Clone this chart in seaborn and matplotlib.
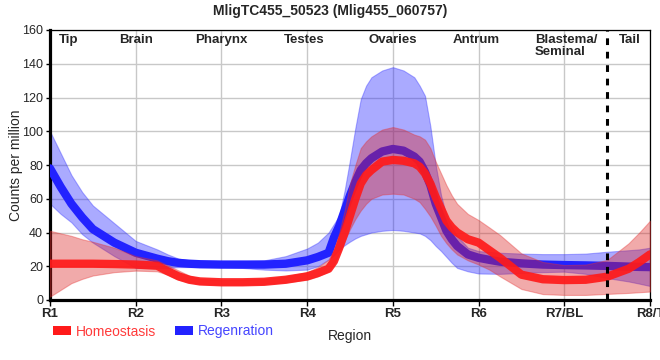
import numpy as np
import pandas as pd
import matplotlib
matplotlib.use('Agg')
import matplotlib.pyplot as plt
import seaborn as sns
from matplotlib.patches import Patch

# sample positions along the body (R1 = 1 ... R8 = 8)
pos = [1.0, 1.125, 1.25, 1.375, 1.5, 1.75,
       2.0, 2.25, 2.375, 2.5, 2.625, 2.75,
       3.0, 3.25, 3.5, 3.75,
       4.0, 4.125, 4.25, 4.3125, 4.375, 4.4375, 4.5, 4.5625, 4.625, 4.6875, 4.75, 4.875,
       5.0, 5.125, 5.25, 5.3125, 5.375, 5.4375, 5.5, 5.5625, 5.625, 5.6875, 5.75, 5.875,
       6.0, 6.125, 6.25, 6.5, 6.75,
       7.0, 7.25, 7.5, 7.75, 7.875,
       8.0]

homeo_mean = [21.5, 21.5, 21.5, 21.5, 21.5, 21.3,
              21, 20.3, 17, 14, 12, 11,
              10.5, 10.5, 10.8, 12,
              14, 16, 18.5, 23, 31, 40, 50, 60, 69, 74, 77, 82,
              83, 82.5, 81, 79, 75, 69, 61, 54, 47, 43, 40, 36,
              34, 29.5, 25, 15, 12.3,
              11.8, 12, 13.8, 18.5, 22.5,
              27]
homeo_lo = [2, 6, 10, 12.5, 14.5, 16.5,
            17.4, 17, 15, 12, 10.5, 9.5,
            9, 9, 9.5, 10.5,
            12, 14, 17, 21, 28, 35, 42, 48, 53, 57, 60, 62.5,
            63, 62.5, 60, 58, 54, 49.5, 44, 38, 33.6, 30, 27, 23.5,
            21, 18, 14, 6.5, 3.5,
            3, 3, 3.6, 4.2, 4.6,
            5]
homeo_hi = [41, 39.5, 38, 36, 34.5, 31,
            26, 23.5, 20.5, 17.5, 14.5, 12.5,
            11.8, 12, 12.5, 14,
            16.5, 19.5, 24, 30, 40, 53, 69, 80, 90, 94, 97, 101,
            102.5, 101, 98, 97, 95, 90, 82, 75, 68, 62, 57, 51,
            47.4, 43, 38.5, 27.6, 22.5,
            20.7, 21, 23.7, 33.6, 40,
            47]

regen_mean = [78, 67, 57, 49, 42, 34,
              28, 24.5, 23, 22, 21.5, 21.2,
              21, 21, 21, 21.5,
              23.5, 25.5, 28, 37, 44, 53, 62, 70, 77, 81, 84, 88,
              89.5, 88.5, 85, 82, 76, 68, 57, 49, 41, 36, 32, 27,
              25, 23.8, 22.7, 21.7, 21,
              20.7, 20.5, 20.2, 19.8, 19.6,
              19.5]
regen_lo = [57, 51, 46, 39, 34, 26,
            19, 19, 19, 19.5, 19.5, 19.5,
            19.5, 19, 18, 17.5,
            18, 20, 24, 26.5, 30, 32.5, 34.6, 36.5, 38, 39, 40, 41,
            41.5, 41, 40, 39.5, 38, 35.5, 32, 29, 25.5, 22, 19, 17,
            15.7, 15.6, 15.5, 16, 16.5,
            16.8, 15.5, 13, 11, 9.7,
            8.3]
regen_hi = [100, 87, 74, 64, 56, 45.5,
            35, 30, 27, 24.5, 23.5, 23,
            23, 23, 23.5, 26,
            30.5, 34, 40, 45, 50, 65, 83, 102, 119, 127, 132, 136,
            138, 136, 132, 127, 121, 103, 80, 62, 50, 43, 38, 31,
            29, 28.5, 28, 27.5, 27.2,
            27.2, 27.5, 28.6, 29.5, 30,
            31]

tick_pos = [1, 2, 3, 4, 5, 6, 7, 8]
tick_labels = ['R1', 'R2', 'R3', 'R4', 'R5', 'R6', 'R7/BL', 'R8/T']
organs = ['Tip', 'Brain', 'Pharynx', 'Testes', 'Ovaries', 'Antrum', 'Blastema/\nSeminal', 'Tail']
organ_pos = [1.22, 2.0, 3.0, 3.97, 5.0, 5.97, 7.02, 7.77]

RED = '#ff1a1a'
BLUE = '#2222ff'

df = pd.DataFrame({
    'pos': pos * 2,
    'cpm': homeo_mean + regen_mean,
    'condition': ['Homeostasis'] * len(pos) + ['Regenration'] * len(pos),
})

sns.set_theme(style='whitegrid')
plt.rcParams['font.family'] = ['Liberation Sans', 'DejaVu Sans']

fig = plt.figure(figsize=(6.6, 3.6), dpi=100)
ax = fig.add_axes([50 / 660, 60 / 360, 600 / 660, 270 / 360])

# regeneration band + line first, homeostasis drawn over it
ax.fill_between(pos, regen_lo, regen_hi, color='#2020ff', alpha=0.38, linewidth=0.8,
                edgecolor=(0.2, 0.2, 1.0, 0.5), zorder=2)
sns.lineplot(data=df[df['condition'] == 'Regenration'], x='pos', y='cpm', color=BLUE,
             linewidth=6, ax=ax, zorder=3, legend=False, solid_joinstyle='round')
ax.fill_between(pos, homeo_lo, homeo_hi, color='#dc2020', alpha=0.38, linewidth=0.8,
                edgecolor=(0.9, 0.2, 0.2, 0.5), zorder=4)
sns.lineplot(data=df[df['condition'] == 'Homeostasis'], x='pos', y='cpm', color=RED,
             linewidth=6, alpha=0.92, ax=ax, zorder=5, legend=False, solid_joinstyle='round')

ax.axvline(7.5, color='black', linestyle=(0, (2.2, 2.2)), linewidth=2.2, zorder=6)

ax.set_xlim(1, 8)
ax.set_ylim(0, 160)
ax.set_xticks(tick_pos)
ax.set_xticklabels(tick_labels, fontsize=9.5, fontweight='bold')
ax.set_yticks(range(0, 161, 20))
ax.tick_params(axis='y', labelsize=9, length=3, width=1, color='black', pad=2, left=True)
ax.tick_params(axis='x', length=4, width=1, color='black', pad=2, bottom=True)
ax.grid(True, color='#c8c8c8', linewidth=1)
ax.set_facecolor('white')

for side in ['left', 'bottom']:
    ax.spines[side].set_linewidth(2.3)
    ax.spines[side].set_color('black')
for side in ['top', 'right']:
    ax.spines[side].set_linewidth(0.9)
    ax.spines[side].set_color('black')

for name, x in zip(organs, organ_pos):
    ax.text(x, 0.985, name, transform=ax.get_xaxis_transform(), ha='center', va='top',
            fontsize=9.5, fontweight='bold', linespacing=1.0, zorder=7,
            multialignment='left')

ax.set_xlabel('Region', fontsize=10, labelpad=6)
ax.set_ylabel('Counts per million', fontsize=10, labelpad=-1)
fig.suptitle('MligTC455_50523 (Mlig455_060757)', fontsize=10, fontweight='bold', y=0.99)

handles = [Patch(facecolor=RED, edgecolor='none'), Patch(facecolor=BLUE, edgecolor='none')]
leg = fig.legend(handles, ['Homeostasis', 'Regenration'], loc='lower left',
                 bbox_to_anchor=(0.062, 0.025), ncol=2, frameon=False, fontsize=10,
                 handlelength=1.3, handleheight=0.6, handletextpad=0.3, columnspacing=1.4)
for txt, c in zip(leg.get_texts(), ['#ff3a3a', '#4646ff']):
    txt.set_color(c)

fig.savefig('out.png', dpi=100, facecolor='white')
